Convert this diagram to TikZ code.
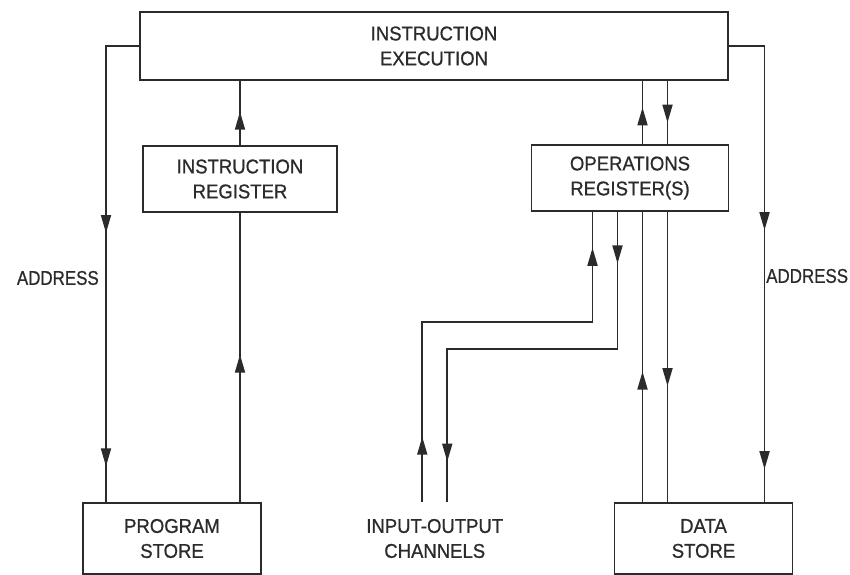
\documentclass[tikz,border=0pt]{standalone}
\usepackage{fontspec}
\setmainfont{Liberation Sans}[FakeStretch=0.93, FakeBold=0.8]
\newfontfamily\narrowfont{Liberation Sans}[FakeStretch=0.85, FakeBold=0.8]
\usepackage{xcolor}
\usepackage{tikz}
\usetikzlibrary{arrows.meta,positioning,decorations.markings}
\definecolor{ink}{HTML}{2B2B2B}
\tikzset{
  tri/.tip={Triangle[length=5.4mm,width=3mm]},
  unit/.style={rectangle, draw=ink, line width=1.5pt, fill=white,
    minimum width=#1, minimum height=19.8mm, inner sep=0pt,
    align=center, font=\blocktext, text=ink},
  unit/.default=58.2mm,
  store/.style={unit=53.4mm, minimum height=21.3mm},
  flow/.style={draw=ink, line width=1.5pt},
  tipat/.style={postaction={decorate, decoration={markings,
    mark=at position #1 with {\arrow{tri}}}}},
  lbl/.style={font=\narrowfont\blocktext, text=ink, inner sep=0pt},
}
\newcommand{\blocktext}{\fontsize{17}{21.3}\selectfont}

\begin{document}
\begin{tikzpicture}[x=0.3mm, y=-0.3mm]
    \useasboundingbox (0,0) rectangle (850,575);

    \node[unit=176.4mm, minimum height=20.4mm] (exec) at (434,46)
      {INSTRUCTION\\EXECUTION};
    \node[unit=58.2mm] (instreg) at (240,179) {INSTRUCTION\\REGISTER};
    \node[unit=59.1mm] (ops) at (630,178) {OPERATIONS\\REGISTER(S)};

    \node[store] (progstore) at (172,538.5) {PROGRAM\\STORE};
    \node[store, draw=none, fill=none, right=24.9mm of progstore] (io)
      {INPUT-OUTPUT\\CHANNELS};
    \node[store, right=26.7mm of io] (datastore) {DATA\\STORE};

    \node[lbl, anchor=east] (addrl) at (99,278) {ADDRESS};
    \node[lbl, anchor=west] (addrr) at (766,276) {ADDRESS};

    % address lines
    \draw[flow, tipat=0.45, tipat=0.927] (exec.west) -| ([xshift=-19.8mm]progstore.north);
    \draw[flow, tipat=0.447, tipat=0.933] (exec.east) -| ([xshift=18.3mm]datastore.north);

    % program side
    \draw[flow, tipat=0.51] (instreg.south |- progstore.north) -- (instreg.south);
    \draw[flow, tipat=0.52] (instreg.north) -- (instreg.north |- exec.south);

    % data side
    \draw[flow, tipat=0.58] ([xshift=3.75mm]ops.north) -- ([xshift=3.75mm]ops.north |- exec.south);
    \draw[flow, tipat=0.66] ([xshift=11.25mm]ops.north |- exec.south) -- ([xshift=11.25mm]ops.north);
    \draw[flow, tipat=0.45] ([xshift=3.75mm]ops.south |- datastore.north) -- ([xshift=3.75mm]ops.south);
    \draw[flow, tipat=0.6] ([xshift=11.25mm]ops.south) -- ([xshift=11.25mm]ops.south |- datastore.north);

    % input-output
    \draw[flow, tipat=0.142, tipat=0.922] ([xshift=-3.75mm]io.north) -- ++(0,-180)
      -| ([xshift=-11.25mm]ops.south);
    \draw[flow, tipat=0.112, tipat=0.912] ([xshift=-3.75mm]ops.south) -- ++(0,137)
      -| ([xshift=3.75mm]io.north);
  \end{tikzpicture}
\end{document}
